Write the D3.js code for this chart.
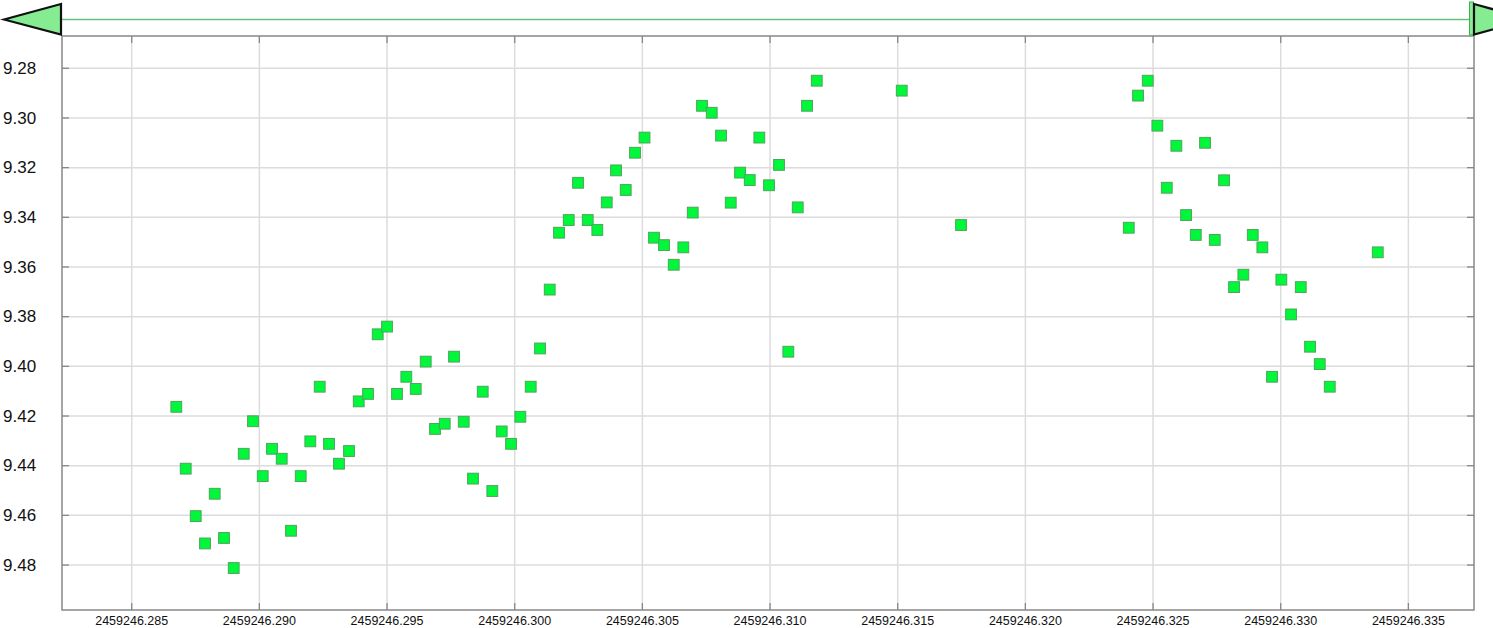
<!DOCTYPE html>
<html>
<head>
<meta charset="utf-8">
<script src="https://cdn.jsdelivr.net/npm/d3@7"></script>
<style>
  body { margin: 0; background: #fff; }
  text { font-family: "Liberation Sans", Arial, sans-serif; fill: #111; }
</style>
</head>
<body>
<div id="container"></div>
<script>
//THE DATA (Julian date, magnitude)
const jd = [
  2459246.286747, 2459246.287115, 2459246.287507, 2459246.287871, 2459246.288251,
  2459246.288615, 2459246.288995, 2459246.289387, 2459246.289751, 2459246.290131,
  2459246.290495, 2459246.290875, 2459246.291239, 2459246.291619, 2459246.291995,
  2459246.292363, 2459246.292728, 2459246.293119, 2459246.293511, 2459246.293891,
  2459246.294255, 2459246.294635, 2459246.294999, 2459246.295391, 2459246.295755,
  2459246.296123, 2459246.296515, 2459246.296879, 2459246.297259, 2459246.297623,
  2459246.298003, 2459246.298367, 2459246.298747, 2459246.299123, 2459246.299491,
  2459246.299856, 2459246.300220, 2459246.300627, 2459246.300992, 2459246.301371,
  2459246.301736, 2459246.302116, 2459246.302480, 2459246.302860, 2459246.303236,
  2459246.303604, 2459246.303968, 2459246.304348, 2459246.304712, 2459246.305084,
  2459246.305456, 2459246.305848, 2459246.306228, 2459246.306604, 2459246.306972,
  2459246.307336, 2459246.307716, 2459246.308081, 2459246.308461, 2459246.308825,
  2459246.309205, 2459246.309581, 2459246.309961, 2459246.310352, 2459246.310716,
  2459246.311085, 2459246.311449, 2459246.311829, 2459246.315158, 2459246.317480,
  2459246.324049, 2459246.324413, 2459246.324793, 2459246.325169, 2459246.325537,
  2459246.325913, 2459246.326293, 2459246.326673, 2459246.327037, 2459246.327417,
  2459246.327781, 2459246.328173, 2459246.328537, 2459246.328905, 2459246.329281,
  2459246.329661, 2459246.330025, 2459246.330405, 2459246.330785, 2459246.331149,
  2459246.331529, 2459246.331921, 2459246.333801
];
const mag = [
  9.4163, 9.4412, 9.4603, 9.4713, 9.4513, 9.4691, 9.4812, 9.4352, 9.4221, 9.4442,
  9.4332, 9.4372, 9.4662, 9.4442, 9.4302, 9.4082, 9.4312, 9.4392, 9.4341, 9.4141,
  9.4111, 9.3871, 9.3840, 9.4111, 9.4042, 9.4091, 9.3981, 9.4252, 9.4231, 9.3961,
  9.4223, 9.4452, 9.4102, 9.4502, 9.4262, 9.4312, 9.4203, 9.4082, 9.3928, 9.3691,
  9.3462, 9.3411, 9.3261, 9.3411, 9.3451, 9.3340, 9.3211, 9.3290, 9.3140, 9.3079,
  9.3482, 9.3512, 9.3591, 9.3521, 9.3381, 9.2951, 9.2979, 9.3071, 9.3341, 9.3220,
  9.3250, 9.3079, 9.3271, 9.3189, 9.3941, 9.3360, 9.2951, 9.2850, 9.2890, 9.3431,
  9.3442, 9.2910, 9.2850, 9.3031, 9.3281, 9.3112, 9.3391, 9.3471, 9.3100, 9.3491,
  9.3251, 9.3681, 9.3631, 9.3471, 9.3521, 9.4042, 9.3651, 9.3791, 9.3681, 9.3921,
  9.3991, 9.4082, 9.3541
];
const xTicks = [2459246.285, 2459246.290, 2459246.295, 2459246.300, 2459246.305,
                2459246.310, 2459246.315, 2459246.320, 2459246.325, 2459246.330, 2459246.335];
const yTicks = [9.28, 9.30, 9.32, 9.34, 9.36, 9.38, 9.40, 9.42, 9.44, 9.46, 9.48];
const xDomain = [2459246.28227, 2459246.33757];
const yDomain = [9.2670, 9.4981];

//THE SVG
const w = 1493;
const h = 628;
const plotLeft = 62, plotRight = 1474, plotTop = 36, plotBottom = 610;
const size = 10.8;
const tickLen = 7;

const svg = d3.select("#container")
              .append("svg")
              .attr("width", w)
              .attr("height", h)
              .style("display", "block");

//THE SCALES
const xScale = d3.scaleLinear().domain(xDomain).range([plotLeft, plotRight]);
const yScale = d3.scaleLinear().domain(yDomain).range([plotTop, plotBottom]);

//THE GRID
const grid = svg.append("g").attr("stroke", "#dcdcdc").attr("stroke-width", 1.5);
grid.selectAll(".vx")
    .data(xTicks)
    .enter()
    .append("line")
    .attr("x1", d => xScale(d)).attr("x2", d => xScale(d))
    .attr("y1", plotTop).attr("y2", plotBottom);
grid.selectAll(".hy")
    .data(yTicks)
    .enter()
    .append("line")
    .attr("x1", plotLeft).attr("x2", plotRight)
    .attr("y1", d => yScale(d)).attr("y2", d => yScale(d));

//THE TICKS (inward on all four sides)
const ticks = svg.append("g").attr("stroke", "#888").attr("stroke-width", 1.3);
xTicks.forEach(d => {
  ticks.append("line").attr("x1", xScale(d)).attr("x2", xScale(d)).attr("y1", plotBottom).attr("y2", plotBottom - tickLen);
  ticks.append("line").attr("x1", xScale(d)).attr("x2", xScale(d)).attr("y1", plotTop).attr("y2", plotTop + tickLen);
});
yTicks.forEach(d => {
  ticks.append("line").attr("x1", plotLeft).attr("x2", plotLeft + tickLen).attr("y1", yScale(d)).attr("y2", yScale(d));
  ticks.append("line").attr("x1", plotRight).attr("x2", plotRight - tickLen).attr("y1", yScale(d)).attr("y2", yScale(d));
});

//THE FRAME
svg.append("rect")
   .attr("x", plotLeft)
   .attr("y", plotTop)
   .attr("width", plotRight - plotLeft)
   .attr("height", plotBottom - plotTop)
   .attr("fill", "none")
   .attr("stroke", "#888")
   .attr("stroke-width", 1.5);

//THE LABELS
svg.append("g")
   .selectAll("text")
   .data(yTicks)
   .enter()
   .append("text")
   .attr("x", 3)
   .attr("y", d => yScale(d))
   .attr("dy", "0.34em")
   .style("font-size", "17px")
   .text(d => d.toFixed(2));

svg.append("g")
   .selectAll("text")
   .data(xTicks)
   .enter()
   .append("text")
   .attr("x", d => xScale(d))
   .attr("y", 625)
   .attr("text-anchor", "middle")
   .style("font-size", "12.5px")
   .text(d => d.toFixed(3));

//THE POINTS
svg.append("g")
   .selectAll("rect")
   .data(jd)
   .enter()
   .append("rect")
   .attr("x", d => xScale(d) - size / 2)
   .attr("y", (d, i) => yScale(mag[i]) - size / 2)
   .attr("width", size)
   .attr("height", size)
   .attr("fill", "#00f73a")
   .attr("stroke", "#4ea45c")
   .attr("stroke-width", 1);

//THE SCROLLBAR
const bar = svg.append("g");
bar.append("line")
   .attr("x1", plotLeft - 1)
   .attr("x2", plotRight - 4)
   .attr("y1", 19.5)
   .attr("y2", 19.5)
   .attr("stroke", "#6cbf79")
   .attr("stroke-width", 1.3);
bar.append("rect")
   .attr("x", plotRight - 4.5)
   .attr("y", 2)
   .attr("width", 4)
   .attr("height", 33)
   .attr("fill", "#8aeb96")
   .attr("stroke", "#3fae4f")
   .attr("stroke-width", 1);
bar.append("path")
   .attr("d", `M${plotLeft - 1},4 L4,19.5 L${plotLeft - 1},34.5 Z`)
   .attr("fill", "#86ec92")
   .attr("stroke", "#111")
   .attr("stroke-width", 2.2);
bar.append("path")
   .attr("d", `M${plotRight},4 L${plotRight + 56},19.5 L${plotRight},34.5 Z`)
   .attr("fill", "#86ec92")
   .attr("stroke", "#111")
   .attr("stroke-width", 2.2);
</script>
</body>
</html>
